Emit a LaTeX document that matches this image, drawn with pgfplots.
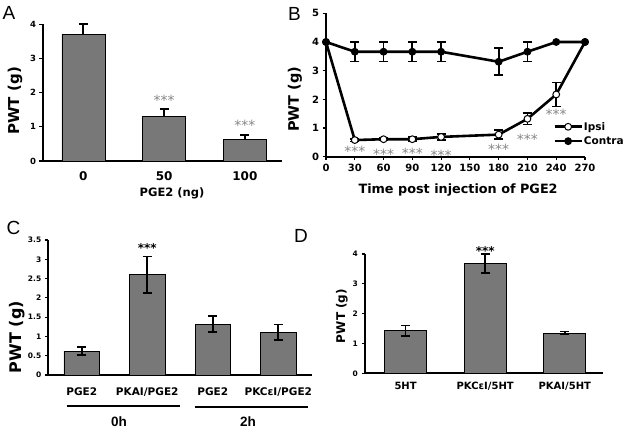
\documentclass[border=0pt]{standalone}
\usepackage{fontspec}
\setmainfont{DejaVu Sans}
\newfontfamily\lib{Liberation Sans}
\usepackage{pgfplots}
\pgfplotsset{compat=1.18}
\definecolor{barfill}{RGB}{120,120,120}
\definecolor{stargray}{RGB}{135,135,135}
\newcommand{\fs}[1]{\fontsize{#1}{#1}\selectfont}

\pgfplotsset{
  panel/.style={scale only axis, axis lines=left, axis line style={line width=2.2pt,-},
    tick align=outside, major tick length=3.5pt, tick style={line width=1.2pt,black},
    /pgf/number format/assume math mode=true, clip=false, ymin=0},
  ebar/.style={error bars/.cd, y dir=#1, y explicit,
    error bar style={line width=1.8pt,black},
    error mark options={rotate=90, mark size=4.5pt, line width=1.8pt, black}},
}

\begin{document}
\begin{tikzpicture}
\useasboundingbox (0pt,0pt) rectangle (625pt,431pt);

% panel letters
\node[font=\lib\fs{19}] at (9pt,418.5pt) {A};
\node[font=\lib\fs{19}] at (294.5pt,417.5pt) {B};
\node[font=\lib\fs{19}] at (13.5pt,203.5pt) {C};
\node[font=\lib\fs{19}] at (301pt,195.5pt) {D};

% ---------- A ----------
\begin{axis}[panel, at={(43pt,270pt)}, anchor=south west, width=239pt, height=136.7pt,
  xmin=-0.50, xmax=2.46, ymax=4, ytick={0,1,2,3,4},
  xtick={0,1,2}, xticklabels={0,50,100}, xtick style={draw=none},
  yticklabel style={font=\bfseries\fs{8.5}},
  xticklabel style={font=\bfseries\fs{12}, yshift=-4pt},
  ylabel={PWT (g)}, ylabel style={at={(axis description cs:-0.117,0.44)}, anchor=center, font=\bfseries\fs{15}},
  xlabel={PGE2 (ng)}, xlabel style={at={(axis description cs:0.54,-0.234)}, anchor=center, font=\bfseries\fs{11.5}}]
\addplot[ybar, bar width=43pt, fill=barfill, draw=black, line width=0.7pt, ebar=plus]
  coordinates {(0,3.70) +- (0,0.30) (1,1.31) +- (0,0.20) (2,0.62) +- (0,0.15)};
\node[font=\fs{14}, text=stargray, yshift=-3pt] at (axis cs:1,1.85) {***};
\node[font=\fs{14}, text=stargray, yshift=-3pt] at (axis cs:2,1.13) {***};
\end{axis}

% ---------- B ----------
\begin{axis}[panel, at={(326pt,274.3pt)}, anchor=south west, width=259pt, height=143.4pt,
  xmin=0, xmax=270, ymax=5, xtick={0,30,60,90,120,150,180,210,240,270}, ytick={0,1,2,3,4,5},
  ticklabel style={font=\bfseries\fs{10}},
  ylabel={PWT (g)}, ylabel style={at={(axis description cs:-0.12,0.40)}, anchor=center, font=\bfseries\fs{14.5}},
  xlabel={Time post injection of PGE2}, xlabel style={at={(axis description cs:0.51,-0.232)}, anchor=center, font=\bfseries\fs{12.8}},
  legend style={draw=none, fill=none, at={(axis description cs:0.877,0.25)}, anchor=north west,
    font=\bfseries\fs{10.5}, row sep=3pt, inner sep=0pt, nodes={inner sep=1pt}},
  legend cell align=left,
  legend image code/.code={\draw[mark repeat=2,mark phase=2,#1] plot coordinates {(0pt,0pt) (13.5pt,0pt) (27pt,0pt)};}]
% error bars
\addplot[draw=none, mark=none, forget plot, ebar=both]
  coordinates {(30,0.58) +- (0,0.05) (60,0.61) +- (0,0.04) (90,0.61) +- (0,0.07) (120,0.69) +- (0,0.10)
               (180,0.77) +- (0,0.16) (210,1.32) +- (0,0.20) (240,2.17) +- (0,0.42)};
\addplot[draw=none, mark=none, forget plot, ebar=both]
  coordinates {(30,3.66) +- (0,0.34) (60,3.66) +- (0,0.34) (90,3.66) +- (0,0.34) (120,3.66) +- (0,0.34)
               (180,3.31) +- (0,0.47) (210,3.66) +- (0,0.34)};
% series
\addplot[black, line width=2.6pt, mark=*, mark options={fill=white, draw=black, line width=1pt, mark size=3.4pt}]
  coordinates {(0,4) (30,0.58) (60,0.61) (90,0.61) (120,0.69) (180,0.77) (210,1.32) (240,2.17) (270,4)};
\addlegendentry{Ipsi}
\addplot[black, line width=2.6pt, mark=*, mark options={fill=black, draw=black, line width=1pt, mark size=3.4pt}]
  coordinates {(0,4) (30,3.66) (60,3.66) (90,3.66) (120,3.66) (180,3.31) (210,3.66) (240,4) (270,4)};
\addlegendentry{Contra}
\foreach \xx/\yy in {30/0.29, 60/0.20, 90/0.23, 120/0.17, 180/0.35, 210/0.70, 240/1.59}{
  \edef\tmp{\noexpand\node[font=\noexpand\fs{14}, text=stargray, yshift=-3pt] at (axis cs:\xx,\yy) {***};}\tmp
}
\end{axis}

% ---------- C ----------
\begin{axis}[panel, at={(48.3pt,56pt)}, anchor=south west, width=263.4pt, height=135pt,
  xmin=-0.51, xmax=3.51, ymax=3.5, ytick={0,0.5,1,1.5,2,2.5,3,3.5},
  xtick={0,1,2,3}, xticklabels={PGE2,PKAI/PGE2,PGE2,PKCεI/PGE2}, xtick style={draw=none},
  yticklabel style={font=\bfseries\fs{7.5}},
  xticklabel style={font=\bfseries\fs{10.5}, yshift=-6pt},
  ylabel={PWT (g)}, ylabel style={at={(axis description cs:-0.119,0.28)}, anchor=center, font=\bfseries\fs{16}}]
\addplot[ybar, bar width=35.5pt, fill=barfill, draw=black, line width=0.7pt, ebar=both]
  coordinates {(0,0.62) +- (0,0.11) (1,2.60) +- (0,0.47) (2,1.32) +- (0,0.20) (3,1.11) +- (0,0.20)};
\node[font=\bfseries\fs{12}, yshift=-3pt] at (axis cs:1,3.37) {***};
\end{axis}
\draw[line width=1.3pt] (66.7pt,25pt) -- (180pt,25pt);
\draw[line width=1.3pt] (195pt,24pt) -- (308pt,24pt);
\node[font=\lib\bfseries\fs{13.5}] at (119pt,9pt) {0h};
\node[font=\lib\bfseries\fs{13.5}] at (248pt,9pt) {2h};

% ---------- D ----------
\begin{axis}[panel, at={(365pt,57.7pt)}, anchor=south west, width=238pt, height=119.3pt,
  xmin=-0.51, xmax=2.48, ymax=4, ytick={0,1,2,3,4},
  xtick={0,1,2}, xticklabels={5HT,PKCεI/5HT,PKAI/5HT}, xtick style={draw=none},
  yticklabel style={font=\bfseries\fs{7.5}},
  xticklabel style={font=\bfseries\fs{10}, yshift=-2pt},
  ylabel={PWT (g)}, ylabel style={at={(axis description cs:-0.097,0.48)}, anchor=center, font=\bfseries\fs{12}}]
\addplot[ybar, bar width=42pt, fill=barfill, draw=black, line width=0.7pt, ebar=both]
  coordinates {(0,1.43) +- (0,0.17) (1,3.68) +- (0,0.33) (2,1.35) +- (0,0.05)};
\node[font=\bfseries\fs{12}, yshift=-3pt] at (axis cs:1,4.19) {***};
\end{axis}
\end{tikzpicture}
\end{document}
